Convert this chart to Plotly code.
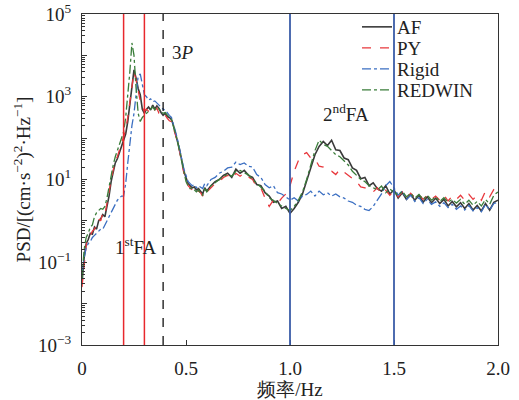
import numpy as np
import plotly.graph_objects as go

# frequency samples: 0.01 Hz step up to 0.6 Hz, 0.02 Hz step to 2.0 Hz
freq_low = np.round(np.arange(0.0, 0.605, 0.01), 3)
freq_high = np.round(np.arange(0.62, 2.001, 0.02), 3)
freq = np.concatenate([freq_low, freq_high])

# log10(PSD)
af_log_low = [-1.5, -0.9, -0.55, -0.45, -0.3, -0.32, -0.15, -0.2, 0.0, 0.05,
              0.15, 0.1, 0.35, 0.6, 0.95, 1.2, 1.4, 1.5, 1.65, 1.8,
              1.95, 2.1, 2.4, 2.8, 3.25, 3.65, 3.45, 3.2, 3.05, 2.7,
              2.6, 2.7, 2.75, 2.68, 2.8, 2.7, 2.78, 2.72, 2.62, 2.55,
              2.6, 2.52, 2.5, 2.45, 2.3, 2.1, 1.95, 1.7, 1.45, 1.2,
              1.05, 0.9, 0.85, 0.8, 0.82, 0.75, 0.78, 0.7, 0.65, 0.8,
              0.72]
af_log_high = [0.85, 0.95, 1.0, 1.1, 1.15, 1.05, 1.25, 1.15, 1.22, 1.1,
               1.05, 0.88, 0.85, 0.68, 0.6, 0.45, 0.48, 0.3, 0.35, 0.18,
               0.3, 0.45, 0.65, 0.95, 1.3, 1.6, 1.8, 1.92, 1.82, 1.95,
               1.72, 1.7, 1.52, 1.48, 1.28, 1.22, 1.02, 1.05, 0.85, 0.92,
               0.78, 0.72, 0.85, 0.65, 0.75, 0.55, 0.68, 0.52, 0.64, 0.5,
               0.62, 0.45, 0.58, 0.44, 0.55, 0.42, 0.52, 0.36, 0.47, 0.34,
               0.44, 0.3, 0.42, 0.26, 0.37, 0.24, 0.42, 0.26, 0.45, 0.5]

py_log_low = [-1.6, -1.0, -0.6, -0.4, -0.35, -0.25, -0.2, -0.1, 0.05, 0.0,
              0.2, 0.15, 0.4, 0.7, 1.0, 1.2, 1.45, 1.55, 1.7, 1.85,
              2.0, 2.2, 2.5, 2.9, 3.3, 3.6, 3.4, 3.1, 2.9, 2.75,
              2.65, 2.7, 2.65, 2.75, 2.7, 2.68, 2.72, 2.6, 2.58, 2.5,
              2.55, 2.48, 2.42, 2.4, 2.25, 2.05, 1.9, 1.65, 1.4, 1.15,
              1.0, 0.85, 0.8, 0.75, 0.8, 0.7, 0.72, 0.68, 0.6, 0.75,
              0.7]
py_log_high = [0.8, 0.9, 0.95, 1.05, 1.1, 1.02, 1.15, 1.08, 1.15, 1.06,
               1.0, 0.82, 0.8, 0.55, 0.35, 0.5, 0.42, 0.55, 0.65, 0.85,
               1.2, 1.45, 1.6, 1.65, 1.52, 1.5, 1.32, 1.3, 1.22, 1.2,
               1.12, 1.25, 1.18, 1.1, 1.02, 0.95, 0.82, 0.8, 0.72, 0.7,
               0.8, 0.65, 0.74, 0.62, 0.72, 0.58, 0.7, 0.55, 0.67, 0.56,
               0.64, 0.52, 0.62, 0.52, 0.6, 0.5, 0.62, 0.48, 0.6, 0.52,
               0.62, 0.5, 0.64, 0.52, 0.62, 0.5, 0.72, 0.58, 0.76, 0.85]

rigid_log_low = [-1.3, -0.9, -0.65, -0.55, -0.5, -0.4, -0.35, -0.3, -0.25, -0.2,
                 -0.2, -0.1, 0.0, 0.1, 0.2, 0.3, 0.4, 0.5, 0.55, 0.6,
                 0.6, 0.9, 1.4, 1.9, 2.3, 2.6, 3.1, 3.5, 3.55, 3.3,
                 3.05, 3.0, 2.92, 2.95, 2.88, 2.9, 2.85, 2.82, 2.75, 2.7,
                 2.68, 2.6, 2.55, 2.5, 2.35, 2.15, 1.95, 1.7, 1.5, 1.25,
                 1.1, 0.95, 0.9, 0.85, 0.88, 0.8, 0.85, 0.82, 0.78, 0.9,
                 0.85]
rigid_log_high = [1.0, 1.05, 1.15, 1.2, 1.28, 1.3, 1.42, 1.36, 1.4, 1.32,
                  1.3, 1.12, 1.05, 0.88, 0.8, 0.85, 0.68, 0.65, 0.58, 0.5,
                  0.56, 0.48, 0.6, 0.64, 0.72, 0.6, 0.72, 0.63, 0.68, 0.6,
                  0.65, 0.58, 0.55, 0.48, 0.45, 0.38, 0.35, 0.28, 0.25, 0.35,
                  0.5, 0.65, 0.85, 0.95, 0.8, 0.62, 0.72, 0.52, 0.62, 0.47,
                  0.56, 0.42, 0.52, 0.4, 0.46, 0.35, 0.44, 0.32, 0.4, 0.28,
                  0.36, 0.26, 0.37, 0.24, 0.32, 0.22, 0.4, 0.26, 0.42, 0.45]

redwin_log_low = [-1.4, -0.7, -0.4, -0.3, -0.15, -0.1, 0.1, 0.2, 0.25, 0.3,
                  0.28, 0.35, 0.55, 0.85, 1.1, 1.35, 1.55, 1.7, 1.85, 2.0,
                  2.15, 2.5, 3.0, 3.6, 4.3, 4.0, 3.2, 2.6, 2.4, 2.5,
                  2.55, 2.6, 2.65, 2.7, 2.75, 2.68, 2.75, 2.7, 2.65, 2.6,
                  2.62, 2.55, 2.5, 2.45, 2.3, 2.1, 1.9, 1.65, 1.4, 1.15,
                  0.95, 0.85, 0.78, 0.8, 0.75, 0.7, 0.75, 0.65, 0.62, 0.78,
                  0.7]
redwin_log_high = [0.85, 0.92, 1.0, 1.08, 1.12, 1.08, 1.2, 1.22, 1.16, 1.12,
                   1.0, 0.9, 0.8, 0.72, 0.55, 0.5, 0.42, 0.35, 0.3, 0.25,
                   0.35, 0.5, 0.7, 1.0, 1.35, 1.7, 1.95, 1.85, 1.8, 1.7,
                   1.6, 1.55, 1.45, 1.35, 1.2, 1.1, 1.0, 0.95, 0.85, 0.8,
                   0.75, 0.84, 0.68, 0.77, 0.7, 0.62, 0.72, 0.58, 0.67, 0.55,
                   0.64, 0.52, 0.62, 0.5, 0.58, 0.47, 0.56, 0.45, 0.52, 0.43,
                   0.52, 0.4, 0.5, 0.38, 0.47, 0.36, 0.52, 0.4, 0.62, 0.7]

series_names = ["AF", "PY", "Rigid", "REDWIN"]
series_logs = [af_log_low + af_log_high, py_log_low + py_log_high,
               rigid_log_low + rigid_log_high, redwin_log_low + redwin_log_high]
series_colors = ["#3a3a3a", "#e8383d", "#3b6fc2", "#3a7d3a"]
series_dash = ["solid", "dash", "dashdot", "dashdot"]
series_width = [1.6, 1.3, 1.3, 1.3]

fa1_bounds = [0.2, 0.3]
p3_freq = 0.39
fa2_bounds = [1.0, 1.5]

ytick_exps = [-3, -2, -1, 0, 1, 2, 3, 4, 5]
ytick_text = ["10<sup>−3</sup>", " ", "10<sup>−1</sup>", " ", "10<sup>1</sup>", " ",
              "10<sup>3</sup>", " ", "10<sup>5</sup>"]
xtick_vals = [0, 0.5, 1.0, 1.5, 2.0]
xtick_text = ["0", "0.5", "1.0", "1.5", "2.0"]

FONT = "Liberation Serif"
FS = 19

# plot area in pixels (for legend placement)
PL, PR, PT, PB = 82, 498, 14, 345
legend_rows_px = [27, 48, 69, 90]

fig = go.Figure()
legend_ids = ["legend", "legend2", "legend3", "legend4"]
for name, logs, col, dash, w, lid in zip(series_names, series_logs, series_colors,
                                          series_dash, series_width, legend_ids):
    fig.add_trace(go.Scatter(x=freq, y=np.power(10.0, np.array(logs)), mode="lines", name=name,
                             legend=lid, line=dict(color=col, dash=dash, width=w)))

for fx in fa1_bounds:
    fig.add_shape(type="line", x0=fx, x1=fx, y0=0, y1=1, xref="x", yref="paper",
                  line=dict(color="#e8282d", width=1.5))
fig.add_shape(type="line", x0=p3_freq, x1=p3_freq, y0=0, y1=1, xref="x", yref="paper",
              line=dict(color="#111111", width=1.3, dash="dash"))
for fx in fa2_bounds:
    fig.add_shape(type="line", x0=fx, x1=fx, y0=0, y1=1, xref="x", yref="paper",
                  line=dict(color="#3a5ca8", width=1.8))

fig.add_annotation(x=0.487, y=4.06, text="3<i>P</i>", showarrow=False,
                   font=dict(size=FS, color="#222", family=FONT))
fig.add_annotation(x=0.26, y=-0.6, text="1<sup>st</sup>FA", showarrow=False,
                   font=dict(size=FS, color="#222", family=FONT))
fig.add_annotation(x=1.27, y=2.6, text="2<sup>nd</sup>FA", showarrow=False,
                   font=dict(size=FS, color="#222", family=FONT))

min_vals = [m * 10.0 ** e for e in range(-3, 5) for m in range(2, 10)]

layout_legends = {}
for lid, ypx in zip(legend_ids, legend_rows_px):
    layout_legends[lid] = dict(x=(357 - PL) / (PR - PL), y=(PB - ypx) / (PB - PT),
                               xanchor="left", yanchor="middle", bgcolor="rgba(0,0,0,0)",
                               font=dict(size=FS, family=FONT, color="#222"))

fig.update_layout(
    width=519, height=400,
    margin=dict(l=PL, r=519 - PR, t=PT, b=400 - PB, autoexpand=False),
    paper_bgcolor="white", plot_bgcolor="white",
    font=dict(family=FONT, size=FS, color="#222"),
    showlegend=True,
    xaxis=dict(range=[0, 2.0], tickvals=xtick_vals, ticktext=xtick_text, automargin=False,
               ticks="inside", ticklen=5, tickcolor="#333", showgrid=False, zeroline=False,
               showline=True, linecolor="#333", linewidth=1.3, mirror=True,
               ticklabelstandoff=6,
               title=dict(text="频率/Hz", standoff=4, font=dict(size=FS))),
    yaxis=dict(type="log", range=[-3, 5], tickvals=[10.0 ** e for e in ytick_exps],
               ticktext=ytick_text, ticks="inside", ticklen=5, tickcolor="#333", automargin=False,
               minor=dict(tickvals=min_vals, ticks="inside", ticklen=3, tickcolor="#333"),
               showgrid=False, zeroline=False, showline=True, linecolor="#333",
               linewidth=1.3, mirror=True, ticklabelstandoff=6,
               title=dict(text="PSD/[(cm·s<sup>−2</sup>)<sup>2</sup>·Hz<sup>−1</sup>]",
                          standoff=2, font=dict(size=FS))),
    **layout_legends,
)

fig.write_html("out.html", config={"displayModeBar": False},
               post_script="document.body.style.margin='0';document.body.style.overflow='hidden';")
